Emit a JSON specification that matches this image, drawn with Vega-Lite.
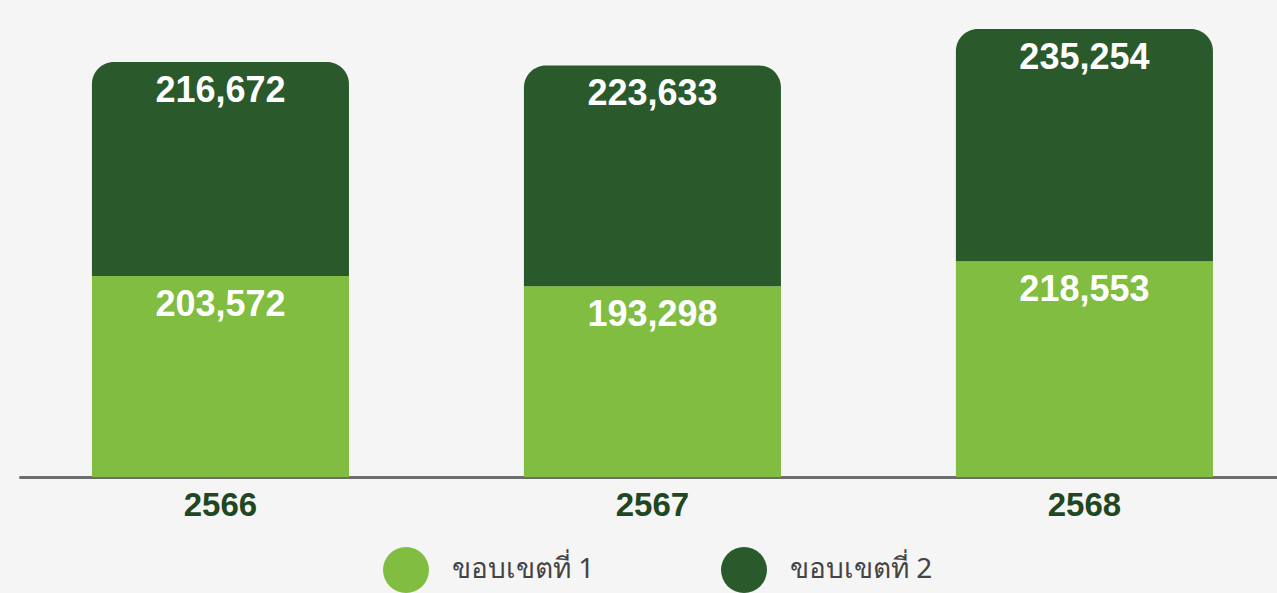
{
  "$schema": "https://vega.github.io/schema/vega-lite/v6.json",
  "width": 1257,
  "height": 464,
  "autosize": {"type": "none"},
  "padding": {"left": 20, "top": 13, "right": 0, "bottom": 116},
  "background": "#f5f5f5",
  "config": {
    "view": {"stroke": null},
    "font": "Liberation Sans"
  },
  "data": {
    "values": [
      {"year": "2566", "series": "ขอบเขตที่ 1", "order": 1, "value": 203572},
      {"year": "2566", "series": "ขอบเขตที่ 2", "order": 2, "value": 216672},
      {"year": "2567", "series": "ขอบเขตที่ 1", "order": 1, "value": 193298},
      {"year": "2567", "series": "ขอบเขตที่ 2", "order": 2, "value": 223633},
      {"year": "2568", "series": "ขอบเขตที่ 1", "order": 1, "value": 218553},
      {"year": "2568", "series": "ขอบเขตที่ 2", "order": 2, "value": 235254}
    ]
  },
  "transform": [
    {"stack": "value", "groupby": ["year"], "sort": [{"field": "order", "order": "ascending"}], "as": ["v0", "v1"]}
  ],
  "encoding": {
    "x": {
      "field": "year", "type": "nominal",
      "scale": {"paddingInner": 0.405, "paddingOuter": 0.1574, "align": 0.529},
      "axis": {
        "title": null, "labelAngle": 0, "ticks": false, "grid": false,
        "domainColor": "#6d6d6d", "domainWidth": 3, "domainCap": "round",
        "labelFont": "Liberation Sans", "labelFontSize": 33, "labelFontWeight": "bold",
        "labelColor": "#1f4722", "labelPadding": 12
      }
    }
  },
  "layer": [
    {
      "transform": [{"filter": "datum.order == 1"}],
      "mark": {"type": "bar"},
      "encoding": {
        "y": {"field": "v0", "type": "quantitative", "scale": {"domain": [0, 470000], "nice": false}, "axis": null},
        "y2": {"field": "v1"},
        "color": {
          "field": "series", "type": "nominal",
          "scale": {"domain": ["ขอบเขตที่ 1", "ขอบเขตที่ 2"], "range": ["#80bd41", "#2a5a2b"]},
          "legend": {
            "title": null, "orient": "none", "direction": "horizontal",
            "legendX": 363, "legendY": 534,
            "symbolType": "circle", "symbolSize": 2116, "symbolStrokeWidth": 0,
            "symbolOffset": 0, "labelOffset": 23,
            "labelFont": "Noto Sans", "labelFontSize": 28, "labelColor": "#444444",
            "columnPadding": 126, "labelLimit": 300
          }
        }
      }
    },
    {
      "transform": [{"filter": "datum.order == 2"}],
      "mark": {"type": "bar", "cornerRadiusTopLeft": 22, "cornerRadiusTopRight": 22},
      "encoding": {
        "y": {"field": "v0", "type": "quantitative"},
        "y2": {"field": "v1"},
        "color": {"field": "series", "type": "nominal"}
      }
    },
    {
      "mark": {"type": "text", "baseline": "alphabetic", "dy": 40, "color": "white", "fontSize": 36, "fontWeight": "bold", "font": "Liberation Sans"},
      "encoding": {
        "y": {"field": "v1", "type": "quantitative"},
        "text": {"field": "value", "type": "quantitative", "format": ","}
      }
    }
  ]
}
